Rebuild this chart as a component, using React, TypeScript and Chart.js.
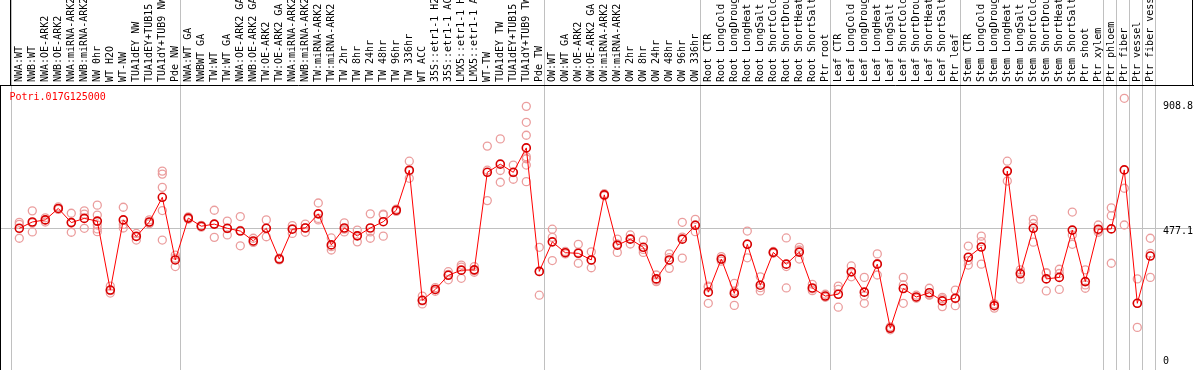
import React, { useEffect, useRef } from "react";
import { Chart, registerables } from "chart.js";

Chart.register(...registerables);

const geneName = "Potri.017G125000";

const categories: string[] = [
  "NWA:WT", "NWB:WT", "NWA:OE-ARK2", "NWB:OE-ARK2", "NWA:miRNA-ARK2", "NWB:miRNA-ARK2",
  "NW 0hr", "WT H2O", "WT-NW", "TUA1dEY NW", "TUA1dEY+TUB15", "TUA1dY+TUB9 NW", "Pde NW",
  "NWA:WT GA", "NWBWT GA", "TW:WT", "TW:WT GA", "NWA:OE-ARK2 GA", "NWB:OE-ARK2 GA",
  "TW:OE-ARK2", "TW:OE-ARK2 GA", "NWA:miRNA-ARK2", "NWB:miRNA-ARK2", "TW:miRNA-ARK2",
  "TW:miRNA-ARK2", "TW 2hr", "TW 8hr", "TW 24hr", "TW 48hr", "TW 96hr", "TW 336hr",
  "WT ACC", "35S::etr1-1 H2", "35S::etr1-1 AC", "LMX5::etr1-1 H", "LMX5::etr1-1 A",
  "WT-TW", "TUA1dEY TW", "TUA1dEY+TUB15", "TUA1dY+TUB9 TW", "Pde TW",
  "OW:WT", "OW:WT GA", "OW:OE-ARK2", "OW:OE-ARK2 GA", "OW:miRNA-ARK2", "OW:miRNA-ARK2",
  "OW 2hr", "OW 8hr", "OW 24hr", "OW 48hr", "OW 96hr", "OW 336hr",
  "Root CTR", "Root LongCold", "Root LongDroug", "Root LongHeat", "Root LongSalt",
  "Root ShortCold", "Root ShortDrou", "Root ShortHeat", "Root ShortSalt", "Ptr root",
  "Leaf CTR", "Leaf LongCold", "Leaf LongDroug", "Leaf LongHeat", "Leaf LongSalt",
  "Leaf ShortCold", "Leaf ShortDrou", "Leaf ShortHeat", "Leaf ShortSalt", "Ptr leaf",
  "Stem CTR", "Stem LongCold", "Stem LongDroug", "Stem LongHeat", "Stem LongSalt",
  "Stem ShortCold", "Stem ShortDrou", "Stem ShortHeat", "Stem ShortSalt", "Ptr shoot",
  "Ptr xylem", "Ptr phloem", "Ptr fiber", "Ptr vessel", "Ptr fiber vess",
];

const meanValues: number[] = [
  477, 498, 505, 543, 496, 510, 501, 272, 505, 450, 498, 580, 372,
  511, 484, 491, 477, 468, 435, 477, 375, 474, 478, 525, 422, 478, 452, 478, 499, 537, 670,
  238, 274, 321, 338, 339, 663, 690, 663, 744, 334,
  432, 396, 394, 372, 588, 421, 441, 414, 309, 372, 441, 487,
  265, 375, 261, 424, 288, 397, 358, 398, 279, 252,
  258, 333, 265, 358, 145, 277, 249, 263, 236, 245,
  381, 415, 220, 667, 326, 477, 309, 314, 471, 300, 474,
  475, 671, 228, 385,
];

const replicateValues: number[][] = [
  [497, 444, 490], [535, 465, 495], [512, 498, 505], [548, 540, 541], [527, 464, 497],
  [535, 524, 477], [554, 521, 488, 475, 466], [285, 262, 270], [547, 490, 478], [460, 438, 452],
  [505, 492, 497], [667, 657, 613, 536, 438], [388, 350, 378],
  [515, 507, 511], [487, 481, 484], [537, 447, 490], [501, 455, 476], [516, 419, 470],
  [444, 430, 432], [505, 449, 477], [378, 372, 375], [486, 460, 476], [491, 464, 479],
  [561, 505, 510], [445, 405, 416], [495, 465, 474], [471, 432, 453], [525, 465, 444],
  [524, 451, 522], [541, 533, 537], [700, 643, 667], [252, 226, 236], [280, 268, 274],
  [333, 306, 324], [355, 311, 348], [350, 331, 336], [750, 569, 670], [774, 669, 630],
  [687, 640, 662], [882, 829, 786, 715, 708, 687, 632], [414, 255, 333],
  [474, 447, 370], [400, 392, 396], [424, 361, 397], [399, 346, 371], [592, 585, 587],
  [441, 397, 425], [455, 425, 443], [438, 397, 407], [322, 300, 305], [392, 344, 380],
  [497, 378, 448], [507, 466, 488],
  [285, 228, 282], [383, 368, 374], [294, 221, 268], [468, 379, 425], [316, 269, 280],
  [400, 394, 397], [445, 350, 279], [414, 375, 405], [291, 270, 276], [258, 248, 250],
  [285, 215, 274], [352, 316, 331], [314, 228, 253], [392, 322, 360], [150, 140, 146],
  [314, 228, 289], [255, 245, 247], [278, 255, 256], [248, 217, 243], [272, 220, 243],
  [418, 355, 370], [451, 433, 358], [226, 212, 222], [700, 634, 667], [339, 308, 331],
  [507, 493, 431], [330, 269, 328], [341, 327, 274], [531, 455, 424], [339, 289, 278],
  [488, 470, 464],
  [545, 519, 361], [908.8, 610, 488], [309, 148, 228], [444, 394, 314],
];

const axisTickValues: number[] = [908.8, 477.1, 0];
const gridLineValue = 477.1;
const groupLastIndex: number[] = [-1, 12, 40, 52, 62, 72, 83, 84, 85, 86, 87];

const FONT = '10px "DejaVu Sans Mono", "Liberation Mono", monospace';

export default function App() {
  const ref = useRef<HTMLCanvasElement>(null);

  useEffect(() => {
    const canvas = ref.current;
    if (!canvas) return;

    const decor = {
      id: "decor",
      beforeDraw(chart: any) {
        const { ctx, width, height } = chart;
        ctx.save();
        ctx.fillStyle = "#ffffff";
        ctx.fillRect(0, 0, width, height);
        ctx.restore();
      },
      beforeDatasetsDraw(chart: any) {
        const { ctx, height } = chart;
        const xs = chart.scales.x;
        const ys = chart.scales.y;
        ctx.save();
        ctx.strokeStyle = "#c0c0c0";
        ctx.lineWidth = 1;
        groupLastIndex.forEach((i) => {
          const px = Math.floor(xs.getPixelForValue(i) + 5) + 0.5;
          ctx.beginPath();
          ctx.moveTo(px, 0);
          ctx.lineTo(px, height);
          ctx.stroke();
        });
        const gy = Math.floor(ys.getPixelForValue(gridLineValue)) + 0.5;
        ctx.beginPath();
        ctx.moveTo(0, gy);
        ctx.lineTo(1192, gy);
        ctx.stroke();
        ctx.restore();
      },
      afterDraw(chart: any) {
        const { ctx, height, chartArea } = chart;
        const xs = chart.scales.x;
        const ys = chart.scales.y;
        ctx.save();
        ctx.strokeStyle = "#000000";
        ctx.lineWidth = 1;
        ctx.beginPath();
        ctx.moveTo(0, 85.5);
        ctx.lineTo(1194, 85.5);
        ctx.moveTo(0.5, 85);
        ctx.lineTo(0.5, height);
        ctx.moveTo(10.5, 0);
        ctx.lineTo(10.5, 85);
        ctx.moveTo(1192.5, 0);
        ctx.lineTo(1192.5, 85);
        ctx.stroke();

        ctx.font = FONT;
        ctx.fillStyle = "#000000";
        ctx.textAlign = "left";
        ctx.textBaseline = "middle";
        categories.forEach((lab, i) => {
          const px = xs.getPixelForValue(i);
          ctx.save();
          ctx.translate(px, 82);
          ctx.rotate(-Math.PI / 2);
          ctx.fillText(lab, 0, 0);
          ctx.restore();
        });

        ctx.fillStyle = "#ff0000";
        ctx.fillText(geneName, 9.5, 97.5);

        ctx.fillStyle = "#000000";
        axisTickValues.forEach((v) => {
          const py = ys.getPixelForValue(v) + 3.5;
          const cy = Math.max(chartArea.top + 20, Math.min(chartArea.bottom - 9, py));
          ctx.fillText(String(v), 1163, cy);
        });
        ctx.restore();
      },
    };

    const replicatePoints: { x: number; y: number }[] = [];
    replicateValues.forEach((reps, i) => {
      reps.forEach((v) => replicatePoints.push({ x: i, y: v }));
    });

    const chart = new Chart(canvas, {
      type: "line",
      data: {
        datasets: [
          {
            type: "line",
            label: geneName,
            data: meanValues.map((v, i) => ({ x: i, y: v })),
            borderColor: "#ff0000",
            borderWidth: 1,
            pointRadius: 4,
            pointBorderWidth: 1.6,
            pointBorderColor: "#d80000",
            pointBackgroundColor: "rgba(0,0,0,0)",
            fill: false,
            tension: 0,
            order: 0,
          },
          {
            type: "scatter",
            label: "replicates",
            data: replicatePoints,
            showLine: false,
            pointRadius: 4,
            pointBorderWidth: 1.3,
            pointBorderColor: "#eb9e9e",
            pointBackgroundColor: "rgba(0,0,0,0)",
            order: 1,
          },
        ] as any,
      },
      options: {
        animation: false,
        responsive: false,
        devicePixelRatio: 1,
        layout: { autoPadding: false, padding: { left: 12.8, right: 37.2, top: 86, bottom: 0 } },
        plugins: {
          legend: { display: false },
          tooltip: { enabled: false },
          title: { display: false },
        },
        scales: {
          x: { type: "linear", min: -0.5, max: 87.5, display: false },
          y: { type: "linear", min: 6.5, max: 949.6, display: false },
        },
      },
      plugins: [decor],
    });

    return () => chart.destroy();
  }, []);

  return (
    <div style={{ position: "absolute", left: 0, top: 0, width: 1194, height: 370 }}>
      <canvas ref={ref} width={1194} height={370} style={{ display: "block" }} />
    </div>
  );
}
